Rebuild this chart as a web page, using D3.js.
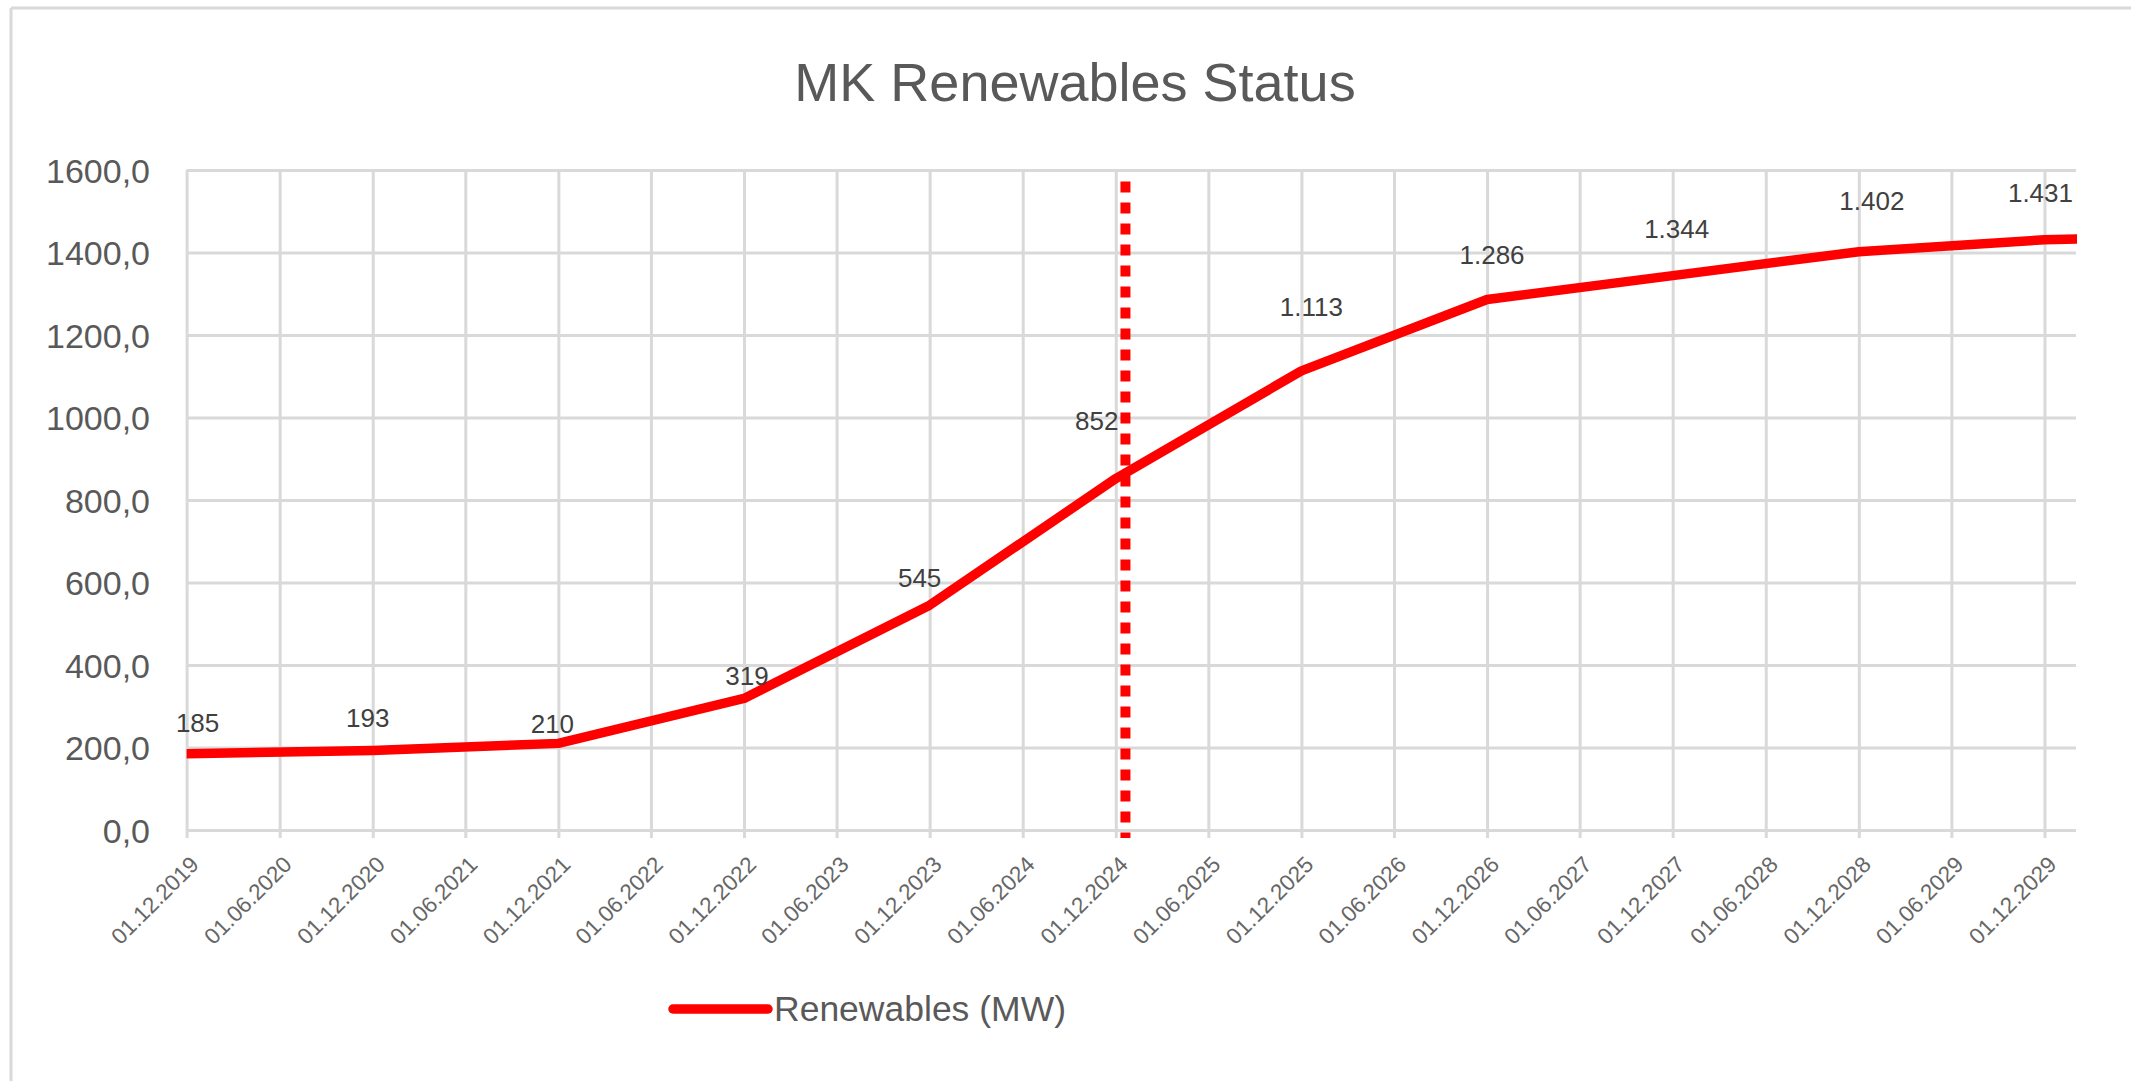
<!DOCTYPE html>
<html>
<head>
<meta charset="utf-8">
<script src="https://cdn.jsdelivr.net/npm/d3@7"></script>
<style>
html,body{margin:0;padding:0;background:#fff;}
svg{display:block;}
text{font-family:"Liberation Sans",Arial,sans-serif;}
</style>
</head>
<body>
<svg id="chart" width="2131" height="1081"></svg>
<script>
// ---------- data ----------
const chartTitle = "MK Renewables Status";
const seriesName = "Renewables (MW)";
const pointDates = ["01.12.2019","01.12.2020","01.12.2021","01.12.2022","01.12.2023","01.12.2024",
                    "01.12.2025","01.12.2026","01.12.2027","01.12.2028","01.12.2029","01.12.2030"];
const pointValues = [185,193,210,319,545,852,1113,1286,1344,1402,1431,1440];
const tickLabels = ["01.12.2019","01.06.2020","01.12.2020","01.06.2021","01.12.2021","01.06.2022",
                    "01.12.2022","01.06.2023","01.12.2023","01.06.2024","01.12.2024","01.06.2025",
                    "01.12.2025","01.06.2026","01.12.2026","01.06.2027","01.12.2027","01.06.2028",
                    "01.12.2028","01.06.2029","01.12.2029"];
const yTickValues = [0,200,400,600,800,1000,1200,1400,1600];
const axisStartDate = "01.12.2019";
const axisEndDate = "01.02.2030";
const markerDate = "20.12.2024";

// ---------- layout (not data) ----------
const labelNudge = [[11,-22],[-5,-23],[-6,-10],[3,-13],[-10,-18],[-19,-49],[10,-55],[5,-36],[4,-38],[13,-42],[-4,-38]];
const plot = {left:186.6, right:2076, top:170, bottom:830};
const gridColor = "#d9d9d9";
const textColor = "#595959";
const red = "#ff0000";

const parse = d3.timeParse("%d.%m.%Y");
const data = pointDates.map((d,i)=>({date:parse(d), value:pointValues[i]}));
const ticks = tickLabels.map(t=>({label:t, date:parse(t)}));

const x = d3.scaleTime().domain([parse(axisStartDate), parse(axisEndDate)]).range([plot.left, plot.right]);
const y = d3.scaleLinear().domain([0,1600]).range([plot.bottom, plot.top]);

const svg = d3.select("#chart");

// chart border (top and left edges visible)
svg.append("line").attr("x1",11).attr("x2",2131).attr("y1",8).attr("y2",8)
  .attr("stroke",gridColor).attr("stroke-width",3);
svg.append("line").attr("x1",11).attr("x2",11).attr("y1",8).attr("y2",1081)
  .attr("stroke",gridColor).attr("stroke-width",3);

// title
svg.append("text").attr("x",1075).attr("y",101).attr("text-anchor","middle")
  .attr("font-size",54).attr("fill",textColor).text(chartTitle);

// horizontal gridlines via axis
const yAxis = d3.axisLeft(y).tickValues(yTickValues)
  .tickSize(-(plot.right - plot.left))
  .tickFormat(d => d3.format(".1f")(d).replace(".", ","));
const gy = svg.append("g").attr("transform",`translate(${plot.left},0)`).call(yAxis);
gy.select(".domain").remove();
gy.selectAll(".tick line").attr("stroke",gridColor).attr("stroke-width",3);
gy.selectAll(".tick text").attr("x",-36.6).attr("dy",null).attr("y",12)
  .attr("font-size",34).attr("fill",textColor).attr("font-family","Liberation Sans, Arial, sans-serif");

// vertical gridlines + ticks via axis
const xAxis = d3.axisBottom(x).tickValues(ticks.map(t=>t.date))
  .tickSize(plot.bottom - plot.top + 8)
  .tickFormat((d,i)=>ticks[i].label);
const gx = svg.append("g").attr("transform",`translate(0,${plot.top})`).call(xAxis);
gx.select(".domain").remove();
gx.selectAll(".tick line").attr("stroke",gridColor).attr("stroke-width",3);
gx.selectAll(".tick text")
  .attr("y",null).attr("dy",null)
  .attr("text-anchor","end")
  .attr("transform",`translate(13,${866-plot.top}) rotate(-45)`)
  .attr("font-size",22.5).attr("fill","#666").attr("font-family","Liberation Sans, Arial, sans-serif");

// clip for series
svg.append("clipPath").attr("id","plotclip").append("rect")
  .attr("x",plot.left).attr("y",0).attr("width",plot.right - plot.left + 1).attr("height",1081);

// marker dotted line
const mx = x(parse(markerDate));
svg.append("line").attr("x1",mx).attr("x2",mx).attr("y1",181.5).attr("y2",838)
  .attr("stroke",red).attr("stroke-width",10).attr("stroke-dasharray","11 10");

// series line
const line = d3.line().x(d=>x(d.date)).y(d=>y(d.value));
svg.append("path").datum(data).attr("d",line).attr("fill","none")
  .attr("stroke",red).attr("stroke-width",9.5).attr("stroke-linejoin","round").attr("stroke-linecap","round")
  .attr("clip-path","url(#plotclip)");

// data labels (only points within the axis range)
const fmt = d3.formatLocale({decimal:",", thousands:".", grouping:[3], currency:["",""]}).format(",");
const inRange = data.filter(d => d.date <= parse(axisEndDate));
svg.append("g").selectAll("text").data(inRange).join("text")
  .attr("x",(d,i)=>x(d.date)+labelNudge[i][0])
  .attr("y",(d,i)=>y(d.value)+labelNudge[i][1])
  .attr("text-anchor","middle").attr("font-size",26).attr("fill","#404040")
  .text(d=>fmt(d.value));

// legend
svg.append("line").attr("x1",673).attr("x2",768).attr("y1",1009).attr("y2",1009)
  .attr("stroke",red).attr("stroke-width",9.5).attr("stroke-linecap","round");
svg.append("text").attr("x",774).attr("y",1020.5).attr("font-size",35.5).attr("fill",textColor).text(seriesName);
</script>
</body>
</html>
